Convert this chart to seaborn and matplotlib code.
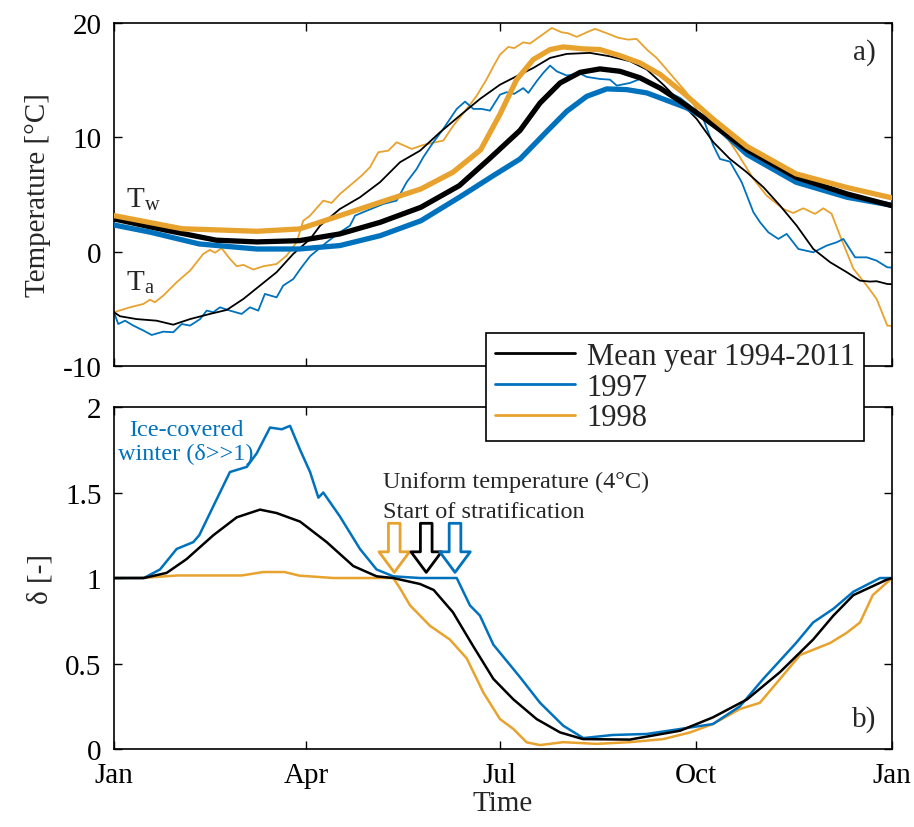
import numpy as np
import pandas as pd
import matplotlib
matplotlib.use("Agg")
import matplotlib.pyplot as plt
import seaborn as sns
from matplotlib.lines import Line2D

# ---------------- data ----------------
month_ticks = [0, 90, 181, 273, 365]
month_labels = ["Jan", "Apr", "Jul", "Oct", "Jan"]

# water temperature (thick)
tw_mean_days = [0, 25, 48, 67, 87, 106, 125, 144, 162, 176, 190.5, 199.9, 209.3, 218.7, 228, 237.4, 246.8, 256.2, 265.6, 273, 297, 320, 344, 365]
tw_mean = [2.86, 1.85, 1.0, 0.85, 0.96, 1.55, 2.57, 3.88, 5.77, 8.1, 10.6, 13.0, 14.75, 15.68, 15.98, 15.77, 15.2, 14.3, 13.15, 12.2, 8.9, 6.5, 5.04, 4.02]

tw_1997_days = [0, 17, 40, 67, 87, 106, 125, 144, 162, 178, 190.5, 203, 212.4, 221.8, 231.2, 240.5, 250, 259.3, 268.7, 280, 297, 320, 344, 365]
tw_1997 = [2.33, 1.7, 0.67, 0.23, 0.23, 0.53, 1.4, 2.7, 4.75, 6.65, 8.1, 10.5, 12.27, 13.58, 14.23, 14.17, 13.88, 13.23, 12.57, 11.4, 8.5, 6.07, 4.75, 4.05]

tw_1998_days = [0, 32, 67, 87, 106, 125, 144, 159, 172, 181, 188.9, 196.7, 204.6, 210.8, 220.2, 228, 237.4, 246.8, 256.2, 267.1, 281, 297, 320, 344, 365]
tw_1998 = [3.15, 2.0, 1.78, 1.98, 3.15, 4.32, 5.48, 6.94, 8.9, 11.98, 15.04, 16.8, 17.67, 17.9, 17.73, 17.67, 17.14, 16.5, 15.5, 13.88, 11.6, 9.2, 6.8, 5.6, 4.7]

# air temperature (thin)
ta_mean_days = [0, 2.8, 10.6, 20, 27.8, 35.7, 45, 52.9, 60.7, 68.5, 76.3, 84.1, 92, 96.7, 106, 115.4, 124.8, 134.2, 143.6, 153, 162.3, 171.7, 181.1, 188.9, 196.7, 204.6, 212.4, 223.3, 232.7, 242.1, 250, 257.7, 265.6, 273.4, 281.2, 289, 296.9, 304.7, 312.5, 320.3, 328.1, 336, 343.8, 350, 354.7, 357.8, 362.8, 365]
ta_mean = [-5.3, -5.65, -5.9, -6.04, -6.39, -5.9, -5.45, -5.1, -4.14, -2.97, -1.8, -0.2, 1.1, 2.27, 3.73, 4.75, 6.07, 7.82, 8.83, 10.44, 11.9, 13.35, 14.6, 15.34, 16.06, 16.94, 17.29, 17.38, 17.08, 16.65, 15.92, 14.6, 13.1, 11.6, 9.57, 8.1, 6.94, 5.63, 4.02, 2.27, 0.23, -0.93, -1.8, -2.54, -2.62, -2.59, -2.83, -2.85]

ta_1997_days = [0, 2, 5.2, 9.1, 13.8, 17.7, 23.1, 27.8, 31.8, 35.7, 40.4, 43.5, 46.6, 49.7, 54.4, 59.9, 63.8, 67.7, 70.8, 76.3, 79.4, 84.1, 88, 92, 99.8, 106, 110.7, 113.1, 118.6, 126.4, 132.6, 137.3, 142, 145.1, 149.8, 154.5, 160.8, 164.7, 168.6, 172.5, 176.4, 181.1, 184.2, 187.8, 192, 194.4, 198.3, 201.4, 204.6, 207.7, 212.4, 218.7, 221.8, 228, 232.7, 235.9, 242.1, 246.8, 253, 259.3, 265.6, 270, 276.5, 281.2, 284.3, 289, 294.5, 300, 303.1, 307, 311.7, 315.6, 321.1, 328.1, 334.4, 339.1, 342.2, 347.7, 353.2, 357.8, 362.8, 365]
ta_1997 = [-5.3, -6.33, -6.04, -6.47, -6.9, -7.29, -7.0, -7.05, -6.33, -6.47, -5.9, -5.16, -5.3, -4.87, -5.16, -5.45, -4.87, -5.16, -3.7, -4.0, -2.97, -2.4, -1.37, -0.4, 0.82, 1.69, 2.27, 3.15, 3.58, 4.17, 4.46, 6.07, 7.23, 8.25, 9.56, 10.73, 12.48, 13.12, 12.48, 12.48, 12.33, 13.73, 13.94, 13.8, 14.3, 13.88, 14.9, 15.63, 16.27, 15.77, 15.4, 15.57, 15.28, 15.1, 15.04, 14.52, 14.75, 15.1, 14.7, 14.02, 13.44, 12.8, 11.6, 9.27, 8.1, 7.87, 6.07, 3.44, 2.57, 1.69, 1.11, 1.55, 0.23, -0.06, 0.53, 0.82, 1.11, -0.5, -0.5, -0.79, -1.37, -1.4]

ta_1998_days = [0, 7.5, 13.8, 16.9, 19.2, 23.1, 29.4, 35.7, 41.9, 45, 47.4, 50.5, 54.4, 57.6, 60.7, 65.4, 70, 76.3, 81, 85.7, 88.8, 92, 98.2, 102.1, 106, 110.7, 116.2, 120.1, 124, 128.7, 132.6, 139.7, 145.1, 150.6, 154.5, 159.2, 165.5, 170.2, 174.9, 178, 181.1, 185, 187.8, 192, 195.2, 199.9, 205.4, 210, 213, 217.1, 221.8, 225.7, 231.2, 236.6, 241.3, 245.2, 250, 254.6, 259.3, 264, 268.7, 275, 285.9, 292.2, 300, 306.2, 314, 318.7, 323.4, 328.9, 332.8, 336.7, 340.6, 346.9, 353.2, 357.8, 362.8, 365]
ta_1998 = [-5.3, -4.87, -4.58, -4.2, -4.43, -3.85, -2.68, -1.66, -0.2, 0.15, -0.1, 0.3, -0.64, -1.28, -1.16, -1.57, -1.28, -1.08, -0.35, 0.82, 2.7, 3.15, 4.46, 4.26, 5.04, 5.77, 6.65, 7.38, 8.69, 8.83, 9.56, 8.98, 9.33, 9.56, 9.71, 11.02, 12.48, 13.64, 15.1, 16.2, 17.23, 17.9, 17.8, 18.3, 18.2, 18.83, 19.56, 19.18, 19.1, 18.78, 19.18, 19.48, 19.1, 18.7, 18.54, 18.6, 17.67, 16.94, 15.92, 14.9, 13.88, 11.9, 10.44, 8.69, 6.36, 4.9, 3.73, 3.38, 3.79, 3.3, 3.79, 3.3, 1.4, -1.5, -2.97, -4.14, -6.47, -6.5]

# delta
d_mean_days = [0, 14, 24.7, 34, 46.6, 57.6, 68.5, 76.3, 87.3, 99.8, 112.3, 123.2, 131, 143.6, 150, 159, 168.6, 178, 187.4, 198.3, 209.3, 220, 242, 265.6, 281, 297, 312.5, 328, 337.5, 346.9, 362.5, 365]
d_mean = [1.0, 1.0, 1.03, 1.11, 1.25, 1.355, 1.40, 1.38, 1.33, 1.21, 1.07, 1.01, 1.0, 0.965, 0.93, 0.80, 0.60, 0.41, 0.29, 0.175, 0.097, 0.058, 0.055, 0.107, 0.185, 0.29, 0.45, 0.64, 0.78, 0.90, 0.99, 1.0]

d_1997_days = [0, 14, 21.6, 29.4, 37.2, 40, 46.6, 54.4, 62.3, 67, 73.2, 78.7, 82.6, 87.3, 92, 95.9, 98.2, 106, 115.4, 123.2, 131, 143.6, 160.8, 167, 171.7, 178, 190.5, 199.9, 210.8, 220.2, 234, 250, 265.6, 281, 293.7, 304.6, 320, 328, 337.5, 346.9, 359.4, 365]
d_1997 = [1.0, 1.0, 1.05, 1.17, 1.21, 1.25, 1.42, 1.62, 1.65, 1.73, 1.88, 1.87, 1.89, 1.75, 1.62, 1.47, 1.50, 1.36, 1.17, 1.05, 1.01, 1.0, 1.0, 0.84, 0.78, 0.61, 0.42, 0.27, 0.136, 0.064, 0.082, 0.088, 0.117, 0.146, 0.25, 0.41, 0.62, 0.74, 0.82, 0.92, 1.0, 1.0]

d_1998_days = [0, 12, 30, 60, 70, 80, 87, 103, 131, 134.2, 138.9, 148.3, 157.6, 165.5, 173.3, 181.1, 187.4, 190.5, 193.6, 199.9, 210.8, 226.5, 242, 257.7, 270.3, 281, 293.7, 303, 312.5, 321.9, 336, 343.8, 350, 356, 365]
d_1998 = [1.0, 1.0, 1.015, 1.015, 1.035, 1.035, 1.014, 1.0, 1.0, 0.94, 0.84, 0.72, 0.64, 0.53, 0.33, 0.175, 0.117, 0.078, 0.039, 0.023, 0.04, 0.03, 0.04, 0.058, 0.097, 0.146, 0.234, 0.27, 0.41, 0.55, 0.62, 0.68, 0.74, 0.90, 1.0]

arrow_days = [131.5, 146.5, 160]
arrow_top = 1.32
arrow_tip = 1.033

series_labels = ["Mean year 1994-2011", "1997", "1998"]

# ---------------- style ----------------
C_BLACK = "#000000"
C_BLUE = "#0072BD"
C_ORANGE = "#E8A22E"
colors = [C_BLACK, C_BLUE, C_ORANGE]

sns.set_theme(style="ticks")
plt.rcParams["font.family"] = ["Liberation Serif", "DejaVu Serif"]
plt.rcParams["mathtext.fontset"] = "stix"
plt.rcParams["axes.unicode_minus"] = False
FS = 21
FS_ANN = 17.5

fig = plt.figure(figsize=(9.14, 8.28), dpi=100)
ax1 = fig.add_axes([0.1247, 0.5568, 0.8512, 0.4143])
ax2 = fig.add_axes([0.1247, 0.0942, 0.8512, 0.4130])


def draw(ax, xs, ys, color, lw, z):
    df = pd.DataFrame({"x": xs, "y": ys})
    sns.lineplot(data=df, x="x", y="y", ax=ax, color=color, linewidth=lw,
                 estimator=None, sort=False, zorder=z)


# top panel: thin air temps first, then thick water temps
draw(ax1, ta_1998_days, ta_1998, C_ORANGE, 1.3, 2)
draw(ax1, ta_1997_days, ta_1997, C_BLUE, 1.3, 2)
draw(ax1, ta_mean_days, ta_mean, C_BLACK, 1.3, 3)
draw(ax1, tw_1997_days, tw_1997, C_BLUE, 3.8, 4)
draw(ax1, tw_mean_days, tw_mean, C_BLACK, 3.8, 5)
draw(ax1, tw_1998_days, tw_1998, C_ORANGE, 3.8, 6)

# bottom panel
draw(ax2, d_1998_days, d_1998, C_ORANGE, 1.8, 2)
draw(ax2, d_mean_days, d_mean, C_BLACK, 1.8, 3)
draw(ax2, d_1997_days, d_1997, C_BLUE, 1.8, 2.5)

for ax in (ax1, ax2):
    ax.set_xlim(0, 365)
    ax.set_xticks(month_ticks)
    ax.tick_params(direction="in", top=True, right=True, length=6, width=1,
                   labelsize=FS, pad=9, colors="black")
    for sp in ax.spines.values():
        sp.set_visible(True)
        sp.set_linewidth(1.2)
        sp.set_color("black")
    ax.grid(False)

ax1.set_ylim(-10, 20)
ax1.set_yticks([-10, 0, 10, 20])
ax1.set_xticklabels([])
ax1.set_xlabel("")
ax1.set_ylabel("Temperature [°C]", fontsize=FS, labelpad=8)

ax2.set_ylim(0, 2)
ax2.set_yticks([0, 0.5, 1, 1.5, 2])
ax2.set_yticklabels(["0", "0.5", "1", "1.5", "2"])
ax2.set_xticklabels(month_labels)
ax2.set_xlabel("Time", fontsize=FS, labelpad=2)
ax2.set_ylabel("δ [-]", fontsize=FS, labelpad=8)

# annotations
ax1.text(5.5, 4.0, r"T$_{\mathregular{w}}$", fontsize=FS, va="baseline", ha="left")
ax1.text(5.5, -3.3, r"T$_{\mathregular{a}}$", fontsize=FS, va="baseline", ha="left")
ax1.text(357.5, 16.85, "a)", fontsize=FS, va="baseline", ha="right")
ax2.text(357.5, 0.136, "b)", fontsize=FS, va="baseline", ha="right")

ax2.text(33.8, 1.696, "Ice-covered\nwinter (δ>>1)", fontsize=FS_ANN, color=C_BLUE,
         ha="center", va="baseline", linespacing=1.15)
ax2.text(126.4, 1.53, "Uniform temperature (4°C)", fontsize=FS_ANN, ha="left", va="baseline")
ax2.text(126.4, 1.358, "Start of stratification", fontsize=FS_ANN, ha="left", va="baseline")

arrow_colors = [C_ORANGE, C_BLACK, C_BLUE]
for d, c in zip(arrow_days, arrow_colors):
    ax2.annotate("", xy=(d, arrow_tip), xytext=(d, arrow_top),
                 arrowprops=dict(arrowstyle="simple,head_length=0.74,head_width=1.1,tail_width=0.42",
                                 fc="white", ec=c, lw=2, shrinkA=0, shrinkB=0,
                                 mutation_scale=20),
                 zorder=6)

handles = [Line2D([0], [0], color=c, lw=2) for c in colors]
fig.legend(handles, series_labels, loc="upper left",
           bbox_to_anchor=(0.5317, 0.5966), bbox_transform=fig.transFigure,
           fontsize=22, frameon=True, fancybox=False, edgecolor="black",
           framealpha=1, borderaxespad=0, handlelength=2.6, handletextpad=0.4,
           labelspacing=0.05, borderpad=0.3)
fig.legends[0].get_frame().set_linewidth(1.2)

fig.savefig("out.png", dpi=100)
